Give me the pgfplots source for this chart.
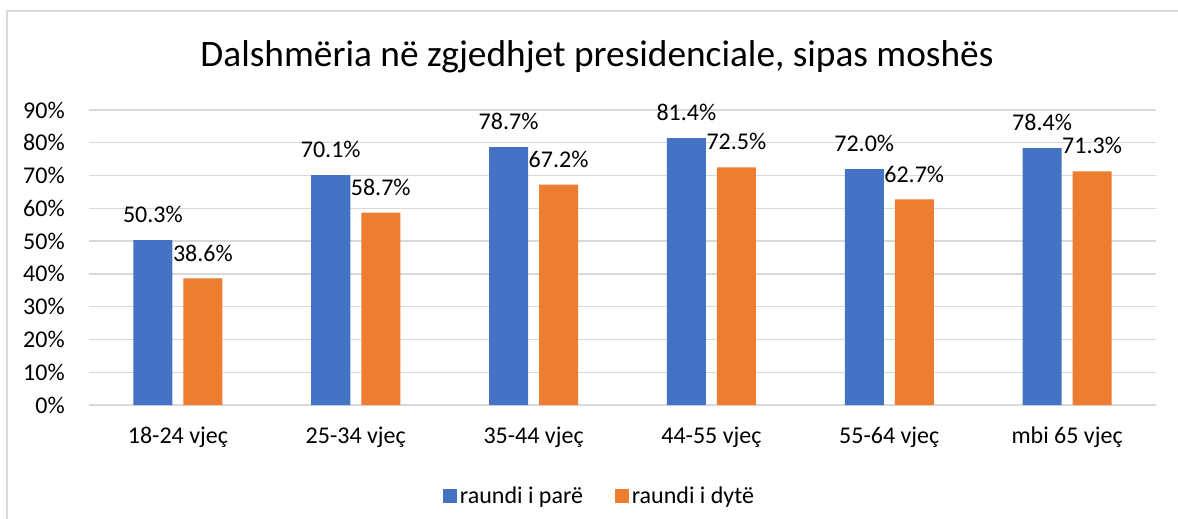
\documentclass[border=0pt]{standalone}
\usepackage{fontspec}
\setmainfont{Carlito}
\usepackage{pgfplots}
\pgfplotsset{compat=1.18}
\definecolor{cblue}{HTML}{4472C4}
\definecolor{corange}{HTML}{ED7D31}
\definecolor{cgrid}{HTML}{D9D9D9}
\begin{document}
\begin{tikzpicture}[x=0.75pt,y=0.75pt]
\begin{axis}[
  name=ax,
  scale only axis,
  width=800.25pt, height=221.25pt,
  ybar=8.25pt, bar width=29.25pt,
  xmin=-0.5, xmax=5.5, ymin=0, ymax=90,
  ytick={0,10,...,90},
  yticklabel={\pgfmathprintnumber{\tick}\%},
  yticklabel style={anchor=east, inner sep=0pt, xshift=-18pt},
  xtick=data,
  xticklabels={18-24 vjeç, 25-34 vjeç, 35-44 vjeç, 44-55 vjeç, 55-64 vjeç, mbi 65 vjeç},
  xticklabel style={anchor=base, inner sep=0pt, yshift=-28.5pt},
  tick label style={font=\fontsize{18}{21}\selectfont},
  /pgf/number format/assume math mode=true,
  major tick length=0pt,
  axis line style={draw=none},
  ymajorgrids, grid style={cgrid, line width=1pt},
  nodes near coords={\pgfmathprintnumber[fixed,precision=1,fixed zerofill,assume math mode=true]{\pgfplotspointmeta}\%},
  nodes near coords style={anchor=base, inner sep=0pt, yshift=13.1pt, font=\fontsize{18}{21}\selectfont, text=black},
  legend style={at={(0.479,0)}, anchor=center, yshift=-68.25pt, draw=none, fill=none,
    legend columns=2, font=\fontsize{18}{21}\selectfont,
    /tikz/every even column/.append style={column sep=22pt},
    legend cell align=left},
  legend image code/.code={\fill[#1] (0pt,-5.25pt) rectangle (10.5pt,5.25pt);},
]
\addplot[fill=cblue, draw=none] coordinates {(0,50.3) (1,70.1) (2,78.7) (3,81.4) (4,72.0) (5,78.4)};
\addplot[fill=corange, draw=none] coordinates {(0,38.6) (1,58.7) (2,67.2) (3,72.5) (4,62.7) (5,71.3)};
\legend{raundi i parë, raundi i dytë}
\coordinate (LL) at (rel axis cs:0,0);
\end{axis}
\pgfresetboundingbox
\begin{scope}[shift={(LL)}]
\begin{scope}[shift={(-89,-113)}]
\useasboundingbox (0,0) rectangle (1178,518);
\draw[cgrid, line width=1.5pt] (7.5,-20) -- (7.5,507) -- (1200,507);
\node[font=\fontsize{28}{32}\selectfont, anchor=base, inner sep=0pt] at (597,451) {Dalshmëria në zgjedhjet presidenciale, sipas moshës};
\end{scope}
\end{scope}
\end{tikzpicture}
\end{document}
